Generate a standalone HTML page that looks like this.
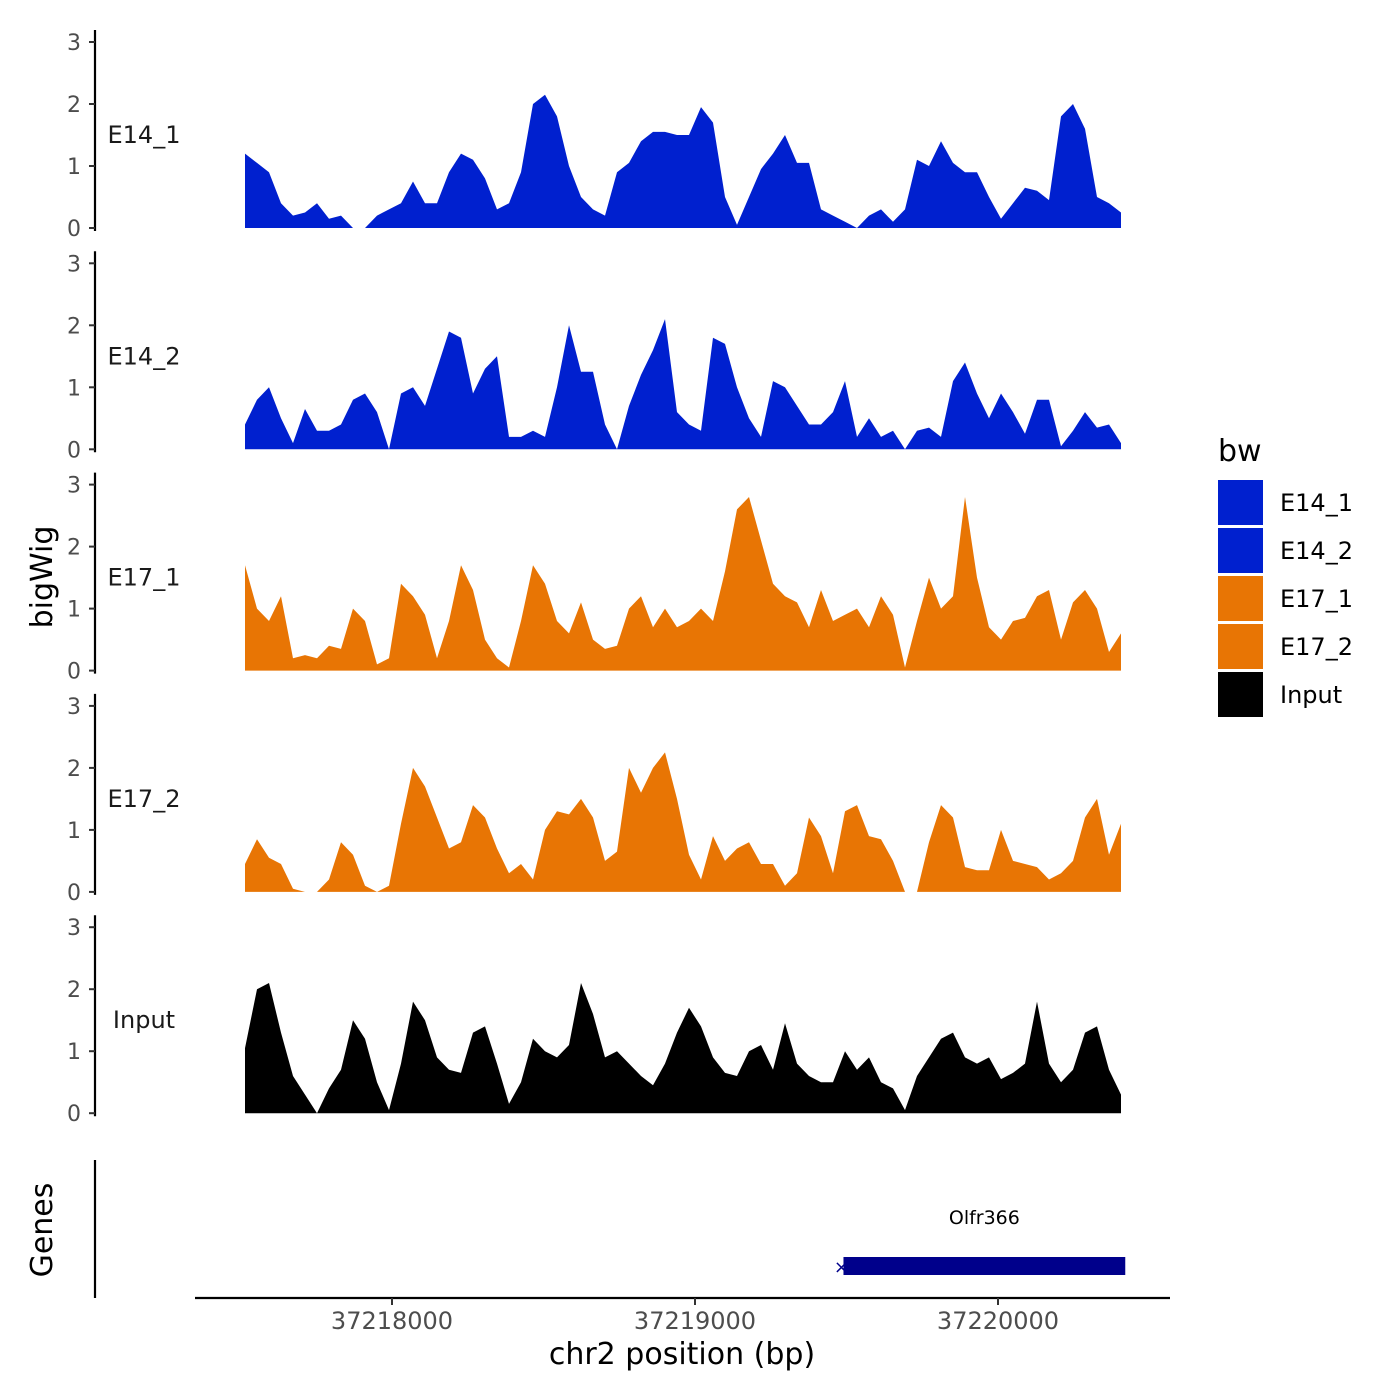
<!DOCTYPE html>
<html><head><meta charset="utf-8">
<style>
html,body{margin:0;padding:0;background:#fff;}
svg{display:block;font-family:"DejaVu Sans","Liberation Sans",sans-serif;}
</style></head>
<body>
<svg id="chart" width="1400" height="1400" viewBox="0 0 1400 1400"></svg>
<script>
const binStart = 37217515;
const binWidth = 39.6;
const trackNames = ["E14_1","E14_2","E17_1","E17_2","Input"];
const trackColors = ["#0020cf","#0020cf","#e87504","#e87504","#000000"];
const yTicks = [0,1,2,3];
const xTicks = [37218000,37219000,37220000];
const xTickLabels = ["37218000","37219000","37220000"];
const geneName = "Olfr366";
const geneStart = 37219490;
const geneEnd = 37220420;
const valsE14_1 = [1.2,1.05,0.9,0.4,0.2,0.25,0.4,0.15,0.2,0,0,0.2,0.3,0.4,0.75,0.4,0.4,0.9,1.2,1.1,0.8,0.3,0.4,0.9,2.0,2.15,1.8,1.0,0.5,0.3,0.2,0.9,1.05,1.4,1.55,1.55,1.5,1.5,1.95,1.7,0.5,0.05,0.5,0.95,1.2,1.5,1.05,1.05,0.3,0.2,0.1,0,0.2,0.3,0.1,0.3,1.1,1.0,1.4,1.05,0.9,0.9,0.5,0.15,0.4,0.65,0.6,0.45,1.8,2.0,1.6,0.5,0.4,0.25];
const valsE14_2 = [0.4,0.8,1.0,0.5,0.1,0.65,0.3,0.3,0.4,0.8,0.9,0.6,0,0.9,1.0,0.7,1.3,1.9,1.8,0.9,1.3,1.5,0.2,0.2,0.3,0.2,1.0,2.0,1.25,1.25,0.4,0,0.7,1.2,1.6,2.1,0.6,0.4,0.3,1.8,1.7,1.0,0.5,0.2,1.1,1.0,0.7,0.4,0.4,0.6,1.1,0.2,0.5,0.2,0.3,0,0.3,0.35,0.2,1.1,1.4,0.9,0.5,0.9,0.6,0.25,0.8,0.8,0.05,0.3,0.6,0.35,0.4,0.1];
const valsE17_1 = [1.7,1.0,0.8,1.2,0.2,0.25,0.2,0.4,0.35,1.0,0.8,0.1,0.2,1.4,1.2,0.9,0.2,0.8,1.7,1.3,0.5,0.2,0.05,0.8,1.7,1.4,0.8,0.6,1.1,0.5,0.35,0.4,1.0,1.2,0.7,1.0,0.7,0.8,1.0,0.8,1.6,2.6,2.8,2.1,1.4,1.2,1.1,0.7,1.3,0.8,0.9,1.0,0.7,1.2,0.9,0.05,0.8,1.5,1.0,1.2,2.8,1.5,0.7,0.5,0.8,0.85,1.2,1.3,0.5,1.1,1.3,1.0,0.3,0.6];
const valsE17_2 = [0.45,0.85,0.55,0.45,0.05,0,0,0.2,0.8,0.6,0.1,0,0.1,1.1,2.0,1.7,1.2,0.7,0.8,1.4,1.2,0.7,0.3,0.45,0.2,1.0,1.3,1.25,1.5,1.2,0.5,0.65,2.0,1.6,2.0,2.25,1.5,0.6,0.2,0.9,0.5,0.7,0.8,0.45,0.45,0.1,0.3,1.2,0.9,0.3,1.3,1.4,0.9,0.85,0.5,0,0,0.8,1.4,1.2,0.4,0.35,0.35,1.0,0.5,0.45,0.4,0.2,0.3,0.5,1.2,1.5,0.6,1.1];
const valsInput = [1.05,2.0,2.1,1.3,0.6,0.3,0,0.4,0.7,1.5,1.2,0.5,0.05,0.8,1.8,1.5,0.9,0.7,0.65,1.3,1.4,0.8,0.15,0.5,1.2,1.0,0.9,1.1,2.1,1.6,0.9,1.0,0.8,0.6,0.45,0.8,1.3,1.7,1.4,0.9,0.65,0.6,1.0,1.1,0.7,1.45,0.8,0.6,0.5,0.5,1.0,0.7,0.9,0.5,0.4,0.05,0.6,0.9,1.2,1.3,0.9,0.8,0.9,0.55,0.65,0.8,1.8,0.8,0.5,0.7,1.3,1.4,0.7,0.3];
const trackValues = [valsE14_1,valsE14_2,valsE17_1,valsE17_2,valsInput];

const NS = "http://www.w3.org/2000/svg";
const svg = document.getElementById("chart");
function mk(tag, attrs, parent){ const e=document.createElementNS(NS,tag); for(const k in attrs) e.setAttribute(k,attrs[k]); (parent||svg).appendChild(e); return e; }
function xScale(bp){ return 392 + (bp-37218000)*0.303; }
const panelZero = [228,449.3,670.6,891.9,1113.2];
const unitPx = 62;
function yScale(i,v){ return panelZero[i] - v*unitPx; }

trackNames.forEach((name,i)=>{
  const g = mk("g",{});
  
  
  const ax = mk("line",{x1:95,x2:95,y1:yScale(i,3)-12,y2:panelZero[i]+3,stroke:"#000","stroke-width":2.2},g);
  
  
  yTicks.forEach(t=>{
    const y=yScale(i,t);
    const tk = mk("line",{x1:89,x2:95,y1:y,y2:y,stroke:"#333","stroke-width":2},g);
    
    
    const tl = mk("text",{x:81,y:y+8,"text-anchor":"end","font-size":22,fill:"#4d4d4d"},g);
    tl.textContent=String(t);
    
    
  });
  const vals = trackValues[i];
  let pts = [];
  pts.push(xScale(binStart).toFixed(1)+","+panelZero[i]);
  vals.forEach((v,j)=>{ pts.push(xScale(binStart+j*binWidth).toFixed(1)+","+yScale(i,v).toFixed(1)); });
  pts.push(xScale(binStart+(vals.length-1)*binWidth).toFixed(1)+","+panelZero[i]);
  const area = mk("polygon",{points:pts.join(" "),fill:trackColors[i]},g);
  
  
  const lab = mk("text",{x:144,y:yScale(i,1.5)+8,"text-anchor":"middle","font-size":24,fill:"#1a1a1a"},g);
  lab.textContent=name;
  
  
});

const yt = mk("text",{x:0,y:0,transform:"translate(52,577) rotate(-90)","text-anchor":"middle","font-size":30,fill:"#000"});
yt.textContent="bigWig";


const gt = mk("text",{x:0,y:0,transform:"translate(52,1230) rotate(-90)","text-anchor":"middle","font-size":30,fill:"#000"});
gt.textContent="Genes";


const gl = mk("line",{x1:95,x2:95,y1:1160,y2:1298,stroke:"#000","stroke-width":2.2});



const gene = mk("rect",{x:xScale(geneStart),y:1257,width:xScale(geneEnd)-xScale(geneStart),height:18,fill:"#00008b"});


const gx = mk("text",{x:xScale(geneStart)-2,y:1273,"text-anchor":"middle","font-size":18,fill:"#00008b"});
gx.textContent="×";


const gn = mk("text",{x:(xScale(geneStart)+xScale(geneEnd))/2,y:1224,"text-anchor":"middle","font-size":19,fill:"#000"});
gn.textContent=geneName;



const xl = mk("line",{x1:195,x2:1170,y1:1298,y2:1298,stroke:"#000","stroke-width":2.2});


xTicks.forEach((t,k)=>{
  const x=xScale(t);
  const tk = mk("line",{x1:x,x2:x,y1:1298,y2:1305,stroke:"#333","stroke-width":2});
  
  
  const tl = mk("text",{x:x,y:1329,"text-anchor":"middle","font-size":24,fill:"#4d4d4d"});
  tl.textContent=xTickLabels[k];
  
  
});
const xt = mk("text",{x:682,y:1364,"text-anchor":"middle","font-size":30,fill:"#000"});
xt.textContent="chr2 position (bp)";



const lt = mk("text",{x:1218,y:461,"font-size":30,fill:"#000"});
lt.textContent="bw";


trackNames.forEach((name,i)=>{
  const y = 480 + i*48;
  const r = mk("rect",{x:1218,y:y,width:45,height:45,fill:trackColors[i]});
  
  
  const t = mk("text",{x:1280,y:y+31,"font-size":24,fill:"#000"});
  t.textContent=name;
  
  
});
</script>
</body></html>
